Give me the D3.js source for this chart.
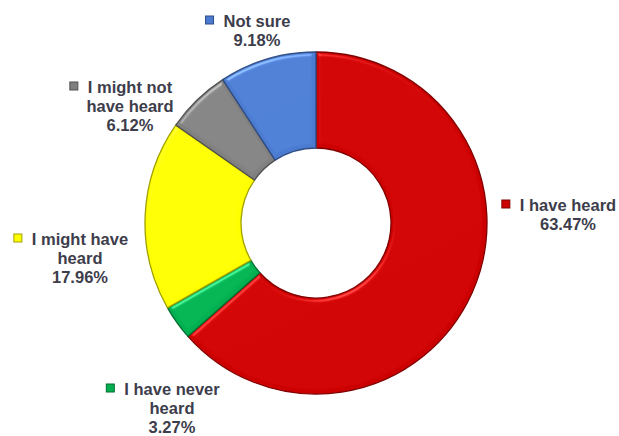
<!DOCTYPE html>
<html>
<head>
<meta charset="utf-8">
<script src="https://cdn.jsdelivr.net/npm/d3@7"></script>
<style>
  html, body { margin: 0; padding: 0; background: #fff; }
  .lbl { font-family: "Liberation Sans", Arial, sans-serif; font-weight: bold; font-size: 16.5px; fill: #3d3d4b; }
</style>
</head>
<body>
<div id="chart"></div>
<script>
const categories = ["I have heard", "I have never heard", "I might have heard", "I might not have heard", "Not sure"];
const values = [63.47, 3.27, 17.96, 6.12, 9.18];
const colors = ["#cc0000", "#00b050", "#ffff00", "#808080", "#4a7bd0"];
// label text broken into lines the way the chart shows it
const labelLines = [
  ["I have heard"],
  ["I have never", "heard"],
  ["I might have", "heard"],
  ["I might not", "have heard"],
  ["Not sure"]
];

const width = 619, height = 436;
const cx = 316, cy = 223;
const outerR = 171, innerR = 75;

// label block: centre x and first baseline, relative to the donut centre
const labelAnchor = [[252, -12], [-144, 172], [-236, 22], [-186, -130], [-59, -196]];

const data = categories.map((c, i) => ({ label: c, value: values[i], color: colors[i], lines: labelLines[i] }));

const svg = d3.select("#chart")
  .append("svg")
  .attr("width", width)
  .attr("height", height);

svg.append("rect").attr("width", width).attr("height", height).attr("fill", "#fff");

// bevel-ish lighting, roughly like the office 3D format
const defs = svg.append("defs");
const f = defs.append("filter").attr("id", "bevel")
  .attr("color-interpolation-filters", "sRGB")
  .attr("x", "-10%").attr("y", "-10%").attr("width", "120%").attr("height", "120%");
f.append("feGaussianBlur").attr("in", "SourceAlpha").attr("stdDeviation", 2).attr("result", "blur");
f.append("feSpecularLighting")
  .attr("in", "blur").attr("surfaceScale", 4).attr("specularConstant", 0.6)
  .attr("specularExponent", 22).attr("lighting-color", "#ffffff").attr("result", "spec")
  .append("fePointLight").attr("x", -3000).attr("y", -6000).attr("z", 5000);
f.append("feComposite").attr("in", "spec").attr("in2", "SourceAlpha").attr("operator", "in").attr("result", "specOut");
f.append("feComposite").attr("in", "SourceGraphic").attr("in2", "specOut")
  .attr("operator", "arithmetic").attr("k1", 0).attr("k2", 1).attr("k3", 0.5).attr("k4", 0);

const g = svg.append("g").attr("transform", `translate(${cx},${cy})`);

const pie = d3.pie().value(d => d.value).sort(null);
const arcs = pie(data);

const arc = d3.arc().innerRadius(innerR).outerRadius(outerR);

g.selectAll("path.slice")
  .data(arcs)
  .join("path")
  .attr("class", "slice")
  .attr("d", arc)
  .attr("fill", d => d.data.color)
  .attr("stroke", d => d3.color(d.data.color).darker(1.3))
  .attr("stroke-width", 1.3)
  .attr("filter", "url(#bevel)");

// labels
const lineH = 19;
const lab = g.selectAll("g.lab")
  .data(arcs)
  .join("g")
  .attr("class", "lab")
  .attr("transform", (d, i) => `translate(${labelAnchor[i][0]},${labelAnchor[i][1]})`);

lab.each(function(d) {
  const sel = d3.select(this);
  const lines = d.data.lines.concat([d3.format(".2f")(d.data.value) + "%"]);
  const texts = sel.selectAll("text")
    .data(lines)
    .join("text")
    .attr("class", "lbl")
    .attr("text-anchor", "middle")
    .attr("x", 0)
    .attr("y", (l, j) => j * lineH)
    .text(l => l);
  // legend key before the first line
  const w = texts.node().getComputedTextLength();
  sel.append("rect")
    .attr("x", -w / 2 - 18)
    .attr("y", -11)
    .attr("width", 8)
    .attr("height", 8)
    .attr("fill", d.data.color)
    .attr("stroke", d3.color(d.data.color).darker(1.3))
    .attr("stroke-width", 1);
});
</script>
</body>
</html>
